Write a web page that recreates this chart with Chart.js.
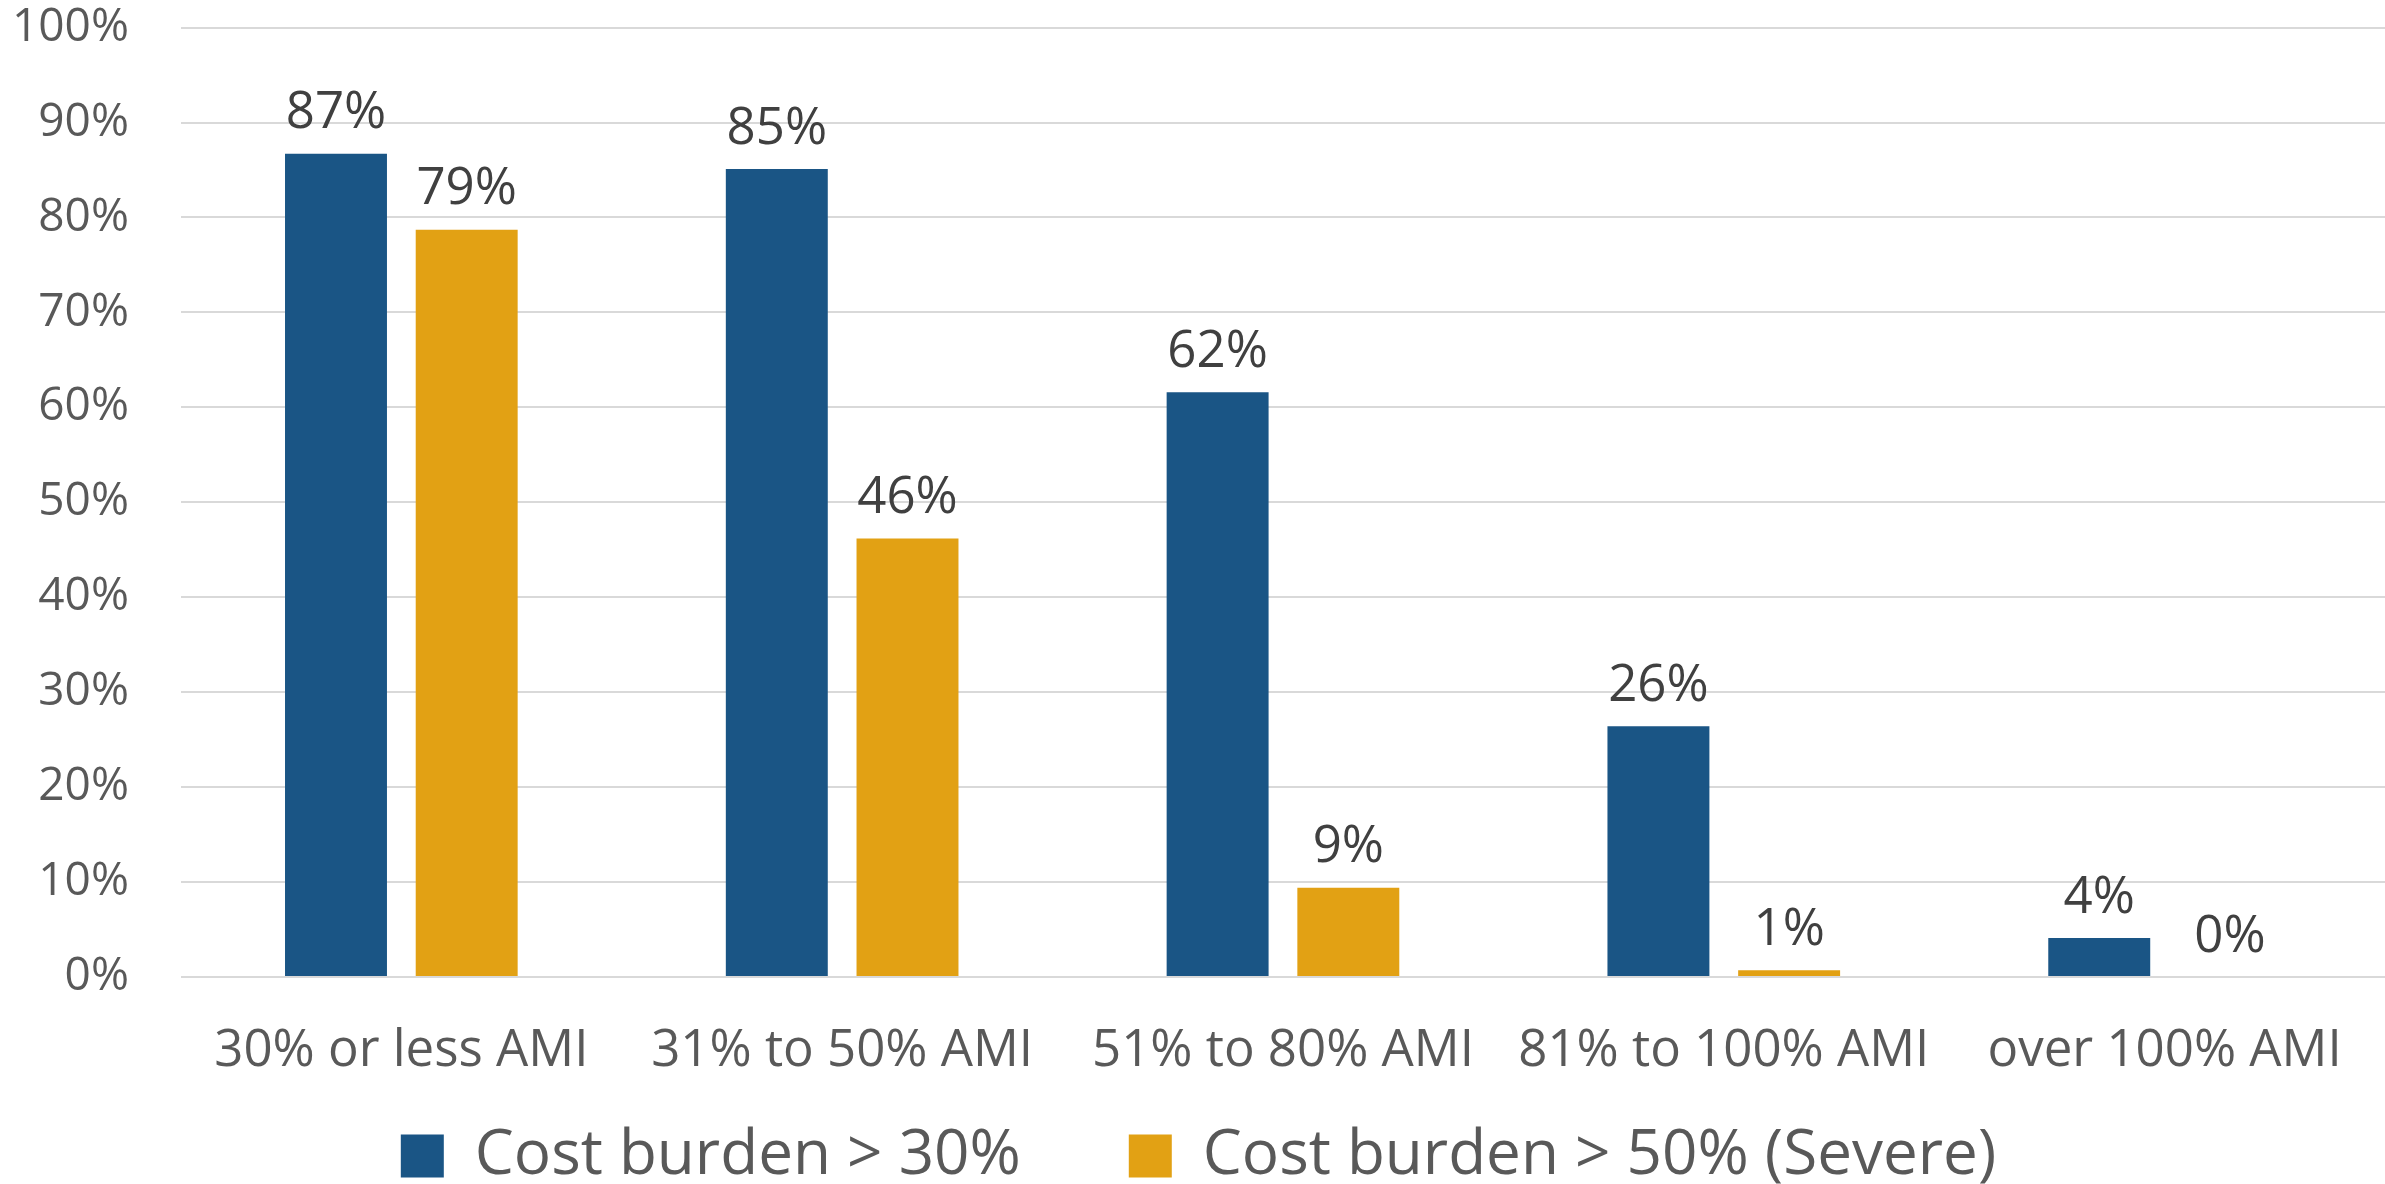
<!DOCTYPE html>
<html>
<head>
<meta charset="utf-8">
<script src="https://cdn.jsdelivr.net/npm/chart.js@4/dist/chart.umd.min.js"></script>
<style>
  html, body { margin: 0; padding: 0; background: #ffffff; }
  #wrap { width: 2385px; height: 1184px; }
</style>
</head>
<body>
<div id="wrap"><canvas id="burdenChart" width="2385" height="1184"></canvas></div>
<script>
const categories = ['30% or less AMI', '31% to 50% AMI', '51% to 80% AMI', '81% to 100% AMI', 'over 100% AMI'];
const burden30 = [86.7, 85.1, 61.6, 26.4, 4.1];
const burden50 = [78.7, 46.2, 9.4, 0.7, 0.0];
const yTicks = [0, 10, 20, 30, 40, 50, 60, 70, 80, 90, 100];

Chart.defaults.font.family = '"Open Sans", "Noto Sans", sans-serif';
Chart.defaults.color = '#595959';

// value labels above each bar
const barLabels = {
    id: 'barLabels',
    afterDatasetsDraw(chart) {
        const ctx = chart.ctx;
        ctx.save();
        ctx.font = '51px "Open Sans"';
        ctx.fillStyle = '#404040';
        ctx.textAlign = 'center';
        ctx.textBaseline = 'middle';
        chart.data.datasets.forEach((ds, i) => {
            chart.getDatasetMeta(i).data.forEach((bar, j) => {
                ctx.fillText(Math.round(ds.data[j]) + '%', bar.x, bar.y - 40);
            });
        });
        ctx.restore();
    }
};

const ctx = document.getElementById('burdenChart').getContext('2d');

new Chart(ctx, {
    type: 'bar',
    data: {
        labels: categories,
        datasets: [
            {
                label: 'Cost burden > 30%',
                data: burden30,
                backgroundColor: '#1A5585',
                categoryPercentage: 0.593,
                barPercentage: 0.78
            },
            {
                label: 'Cost burden > 50% (Severe)',
                data: burden50,
                backgroundColor: '#E2A114',
                categoryPercentage: 0.593,
                barPercentage: 0.78
            }
        ]
    },
    options: {
        responsive: false,
        animation: false,
        devicePixelRatio: 1,
        layout: { padding: { left: 12, right: 0, top: 0, bottom: -13 } },
        scales: {
            x: {
                grid: { display: false },
                border: { display: false },
                ticks: { font: { size: 51 }, padding: 36, color: '#595959' },
                // labels hang into the empty top of the legend box, so don't clip them to the axis box
                afterFit: axis => {
                    axis.height = 40;
                    axis._computeLabelArea = function () {
                        return { top: this.top, left: 0, bottom: this.chart.height, right: this.chart.width };
                    };
                }
            },
            y: {
                min: 0,
                max: 100,
                afterBuildTicks: axis => { axis.ticks = yTicks.map(v => ({ value: v })); },
                grid: { color: '#D9D9D9', lineWidth: 2, drawTicks: true, tickLength: 52, tickColor: 'rgba(0,0,0,0)' },
                border: { display: false },
                ticks: {
                    font: { size: 46 },
                    padding: 0,
                    color: '#595959',
                    callback: v => v + '%'
                }
            }
        },
        plugins: {
            legend: {
                position: 'bottom',
                labels: {
                    font: { size: 62 },
                    color: '#595959',
                    boxWidth: 43,
                    boxHeight: 43,
                    padding: 108
                }
            },
            tooltip: { enabled: false }
        }
    },
    plugins: [barLabels]
});
</script>
</body>
</html>
